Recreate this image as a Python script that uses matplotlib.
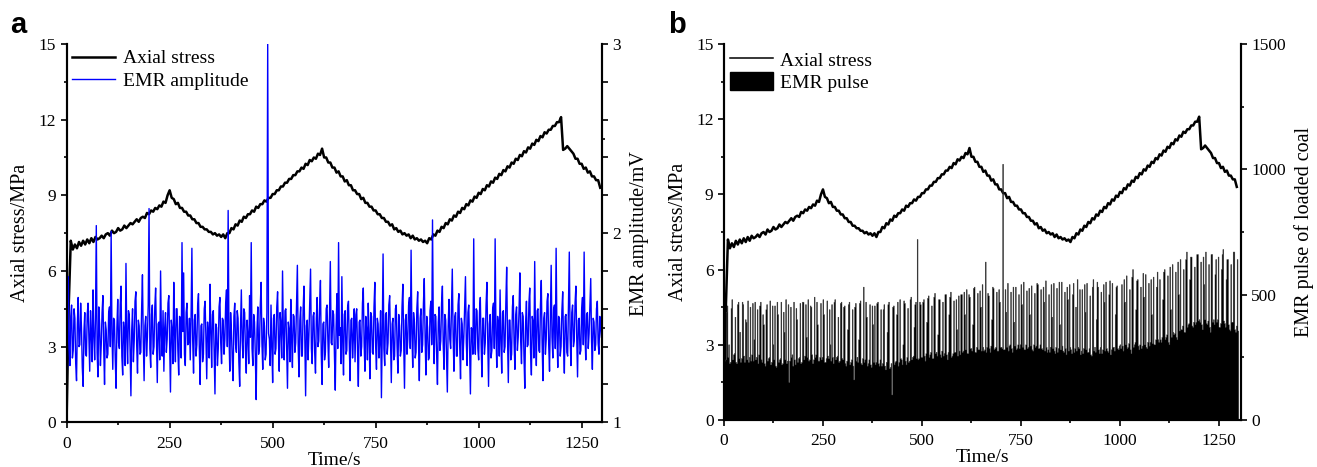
import numpy as np
import matplotlib.pyplot as plt
from matplotlib.ticker import MultipleLocator, FixedLocator, FuncFormatter
from matplotlib.lines import Line2D
from matplotlib.patches import Patch

plt.rcParams['font.family'] = ['Liberation Serif', 'DejaVu Serif']

# sampling interval (s) of the read-off series
STRESS_DT = 5
EMR_DT = 2

# axial stress, MPa (t = 0, 5, 10, ... s)
stress = [
    0.2, 4.6, 7.2, 6.85, 7.05, 6.9, 7.15, 7.0, 7.2, 7.05, 7.25, 7.1, 7.3, 7.15, 7.35, 7.25, 7.3, 7.4, 7.3, 7.45,
    7.5, 7.4, 7.6, 7.5, 7.55, 7.7, 7.6, 7.65, 7.8, 7.7, 7.8, 7.9, 7.85, 7.95, 8.05, 7.95, 8.1, 8.15, 8.1, 8.3,
    8.25, 8.4, 8.35, 8.5, 8.45, 8.6, 8.55, 8.75, 8.7, 9.0, 9.2, 8.9, 8.85, 8.65, 8.7, 8.5, 8.5, 8.35, 8.35, 8.2,
    8.2, 8.05, 8.05, 7.9, 7.9, 7.75, 7.75, 7.65, 7.65, 7.55, 7.55, 7.45, 7.5, 7.4, 7.45, 7.35, 7.45, 7.3, 7.5, 7.5,
    7.7, 7.65, 7.85, 7.8, 8.0, 7.95, 8.15, 8.1, 8.25, 8.25, 8.4, 8.35, 8.55, 8.5, 8.65, 8.65, 8.8, 8.75, 8.9, 8.9,
    9.05, 9.05, 9.2, 9.2, 9.35, 9.35, 9.5, 9.5, 9.65, 9.65, 9.8, 9.8, 9.95, 9.95, 10.1, 10.05, 10.25, 10.2, 10.4, 10.35,
    10.5, 10.45, 10.65, 10.6, 10.85, 10.5, 10.5, 10.3, 10.3, 10.1, 10.1, 9.9, 9.95, 9.75, 9.75, 9.55, 9.6, 9.4, 9.4, 9.2,
    9.2, 9.05, 9.05, 8.85, 8.9, 8.7, 8.7, 8.55, 8.55, 8.4, 8.4, 8.25, 8.25, 8.1, 8.1, 7.95, 7.95, 7.8, 7.85, 7.65,
    7.7, 7.55, 7.6, 7.45, 7.5, 7.4, 7.45, 7.3, 7.4, 7.25, 7.3, 7.2, 7.25, 7.15, 7.2, 7.1, 7.3, 7.25, 7.45, 7.4,
    7.6, 7.55, 7.75, 7.7, 7.9, 7.85, 8.05, 8.0, 8.2, 8.15, 8.35, 8.3, 8.5, 8.45, 8.65, 8.6, 8.8, 8.75, 8.95, 8.9,
    9.1, 9.05, 9.25, 9.2, 9.4, 9.35, 9.55, 9.5, 9.7, 9.65, 9.85, 9.8, 10.0, 9.95, 10.15, 10.1, 10.3, 10.25, 10.45, 10.4,
    10.6, 10.55, 10.75, 10.7, 10.9, 10.85, 11.05, 11.0, 11.2, 11.15, 11.35, 11.3, 11.5, 11.45, 11.6, 11.6, 11.75, 11.75, 11.9, 11.9,
    12.1, 10.8, 10.85, 10.95, 10.85, 10.75, 10.65, 10.45, 10.45, 10.25, 10.25, 10.05, 10.1, 9.9, 9.95, 9.75, 9.75, 9.6, 9.6, 9.3,
]

# EMR amplitude, mV (t = 0, 2, 4, ... s)
emr_amplitude = [
    1.45, 1.28, 1.77, 1.42, 1.30, 1.56, 1.62, 1.34, 1.38, 1.60, 1.55, 1.31, 1.22, 1.52, 1.66, 1.40, 1.41, 1.63, 1.50, 1.29, 1.19, 1.48, 1.58, 1.36, 1.35,
    1.57, 1.63, 1.44, 1.27, 1.59, 1.47, 1.32, 1.70, 1.46, 1.33, 1.55, 2.04, 1.37, 1.24, 1.61, 1.52, 1.30, 1.41, 1.58, 1.67, 1.39, 1.20, 1.53, 1.49, 1.34,
    1.36, 1.58, 1.61, 1.40, 2.01, 1.47, 1.28, 1.55, 1.54, 1.33, 1.18, 1.50, 1.65, 1.42, 1.39, 1.62, 1.72, 1.35, 1.25, 1.53, 1.48, 1.30, 1.84, 1.45, 1.31,
    1.59, 1.57, 1.38, 1.14, 1.49, 1.60, 1.32, 1.43, 1.64, 1.69, 1.41, 1.26, 1.54, 1.51, 1.36, 1.37, 1.60, 1.78, 1.43, 1.22, 1.51, 1.56, 1.35, 1.45, 1.62,
    2.13, 1.39, 1.29, 1.57, 1.62, 1.36, 1.40, 1.61, 1.71, 1.44, 1.21, 1.52, 1.53, 1.33, 1.80, 1.46, 1.35, 1.59, 1.27, 1.50, 1.58, 1.37, 1.44, 1.63, 1.67,
    1.40, 1.16, 1.54, 1.49, 1.31, 1.74, 1.47, 1.32, 1.60, 1.60, 1.38, 1.25, 1.56, 1.55, 1.34, 1.95, 1.48, 1.79, 1.36, 1.30, 1.58, 1.63, 1.41, 1.42, 1.55,
    1.33, 1.56, 1.92, 1.43, 1.26, 1.54, 1.57, 1.35, 1.41, 1.62, 1.68, 1.39, 1.20, 1.51, 1.52, 1.32, 1.36, 1.60, 1.64, 1.45, 1.23, 1.53, 1.47, 1.34, 1.73,
    1.48, 1.29, 1.57, 1.59, 1.37, 1.15, 1.52, 1.50, 1.30, 1.39, 1.61, 1.66, 1.42, 1.31, 1.55, 1.54, 1.36, 1.44, 1.63, 1.70, 1.40, 2.12, 1.46, 1.27, 1.58,
    1.48, 1.33, 1.22, 1.56, 1.63, 1.41, 1.37, 1.59, 1.55, 1.32, 1.19, 1.50, 1.70, 1.43, 1.34, 1.60, 1.58, 1.38, 1.26, 1.54, 1.46, 1.31, 1.67, 1.45, 1.95,
    1.39, 1.30, 1.57, 1.53, 1.35, 1.12, 1.49, 1.61, 1.36, 1.40, 1.62, 1.74, 1.42, 1.28, 1.55, 1.51, 1.33, 1.36, 1.58, 3.00, 1.47, 1.44, 1.30, 1.62, 1.40,
    1.21, 1.55, 1.57, 1.36, 1.39, 1.61, 1.69, 1.43, 1.27, 1.58, 1.52, 1.34, 1.80, 1.47, 1.33, 1.59, 1.60, 1.38, 1.18, 1.53, 1.49, 1.32, 1.65, 1.44, 1.29,
    1.57, 1.56, 1.37, 1.42, 1.62, 1.83, 1.40, 1.24, 1.54, 1.61, 1.35, 1.35, 1.60, 1.72, 1.45, 1.14, 1.51, 1.54, 1.33, 1.46, 1.63, 1.81, 1.39, 1.31, 1.56,
    1.58, 1.37, 1.26, 1.55, 1.66, 1.40, 1.43, 1.62, 1.75, 1.36, 1.20, 1.52, 1.53, 1.33, 1.37, 1.60, 1.62, 1.44, 1.29, 1.56, 1.85, 1.42, 1.41, 1.59, 1.57,
    1.35, 1.17, 1.50, 1.68, 1.39, 1.95, 1.46, 1.50, 1.31, 1.77, 1.43, 1.25, 1.57, 1.59, 1.36, 1.38, 1.61, 1.64, 1.41, 1.22, 1.54, 1.55, 1.34, 1.45, 1.60,
    1.32, 1.57, 1.60, 1.38, 1.19, 1.53, 1.54, 1.35, 1.40, 1.63, 1.71, 1.42, 1.27, 1.56, 1.49, 1.33, 1.63, 1.46, 1.23, 1.58, 1.56, 1.37, 1.36, 1.61, 1.74,
    1.40, 1.28, 1.55, 1.52, 1.34, 1.44, 1.59, 1.13, 1.47, 1.89, 1.39, 1.30, 1.57, 1.58, 1.36, 1.42, 1.62, 1.67, 1.43, 1.21, 1.52, 1.55, 1.33, 1.35, 1.60,
    1.62, 1.40, 1.26, 1.57, 1.51, 1.35, 1.38, 1.61, 1.73, 1.43, 1.18, 1.54, 1.57, 1.36, 1.44, 1.62, 1.66, 1.39, 1.91, 1.47, 1.29, 1.58, 1.53, 1.34, 1.37,
    1.60, 1.69, 1.42, 1.22, 1.55, 1.60, 1.37, 1.41, 1.63, 1.76, 1.45, 1.25, 1.56, 1.50, 1.33, 1.34, 1.59, 1.64, 1.41, 2.07, 1.48, 1.31, 1.57, 1.56, 1.36,
    1.20, 1.53, 1.61, 1.38, 1.43, 1.63, 1.72, 1.41, 1.28, 1.57, 1.54, 1.34, 1.16, 1.51, 1.65, 1.44, 1.39, 1.60, 1.81, 1.46, 1.27, 1.56, 1.58, 1.35, 1.35,
    1.62, 1.68, 1.40, 1.23, 1.55, 1.52, 1.33, 1.45, 1.61, 1.77, 1.42, 1.30, 1.58, 1.62, 1.37, 1.15, 1.50, 1.49, 1.36, 1.97, 1.45, 1.36, 1.60, 1.59, 1.39,
    1.33, 1.58, 1.66, 1.41, 1.24, 1.55, 1.55, 1.36, 1.42, 1.62, 1.74, 1.44, 1.19, 1.52, 1.57, 1.34, 1.38, 1.60, 1.63, 1.39, 1.97, 1.47, 1.29, 1.56, 1.52,
    1.35, 1.70, 1.43, 1.26, 1.58, 1.59, 1.37, 1.40, 1.63, 1.82, 1.45, 1.21, 1.54, 1.54, 1.33, 1.36, 1.61, 1.67, 1.42, 1.28, 1.57, 1.61, 1.38, 1.45, 1.59,
    1.79, 1.43, 1.31, 1.58, 1.56, 1.35, 1.18, 1.53, 1.64, 1.40, 1.41, 1.63, 1.71, 1.37, 1.25, 1.56, 1.53, 1.34, 1.85, 1.46, 1.30, 1.59, 1.60, 1.38, 1.37,
    1.62, 1.75, 1.42, 1.22, 1.55, 1.58, 1.36, 1.44, 1.64, 1.68, 1.41, 1.27, 1.57, 1.83, 1.45, 1.34, 1.60, 1.62, 1.39, 1.92, 1.47, 1.29, 1.56, 1.55, 1.35,
    1.40, 1.59, 1.69, 1.42, 1.26, 1.56, 1.57, 1.37, 1.35, 1.61, 1.90, 1.44, 1.30, 1.58, 1.62, 1.40, 1.43, 1.63, 1.72, 1.45, 1.24, 1.54, 1.55, 1.36, 1.38,
    1.60, 1.66, 1.41, 1.90, 1.47, 1.33, 1.57, 1.58, 1.39, 1.47, 1.62, 1.76, 1.43, 1.28, 1.55, 1.53, 1.38, 1.41, 1.60, 1.64, 1.42, 1.36, 1.56, 1.50, 1.45,
]

# EMR pulse count of loaded coal (t = 0, 2, 4, ... s)
emr_pulse = [
    470, 235, 240, 430, 455, 250, 300, 225, 230, 445, 480, 240, 260, 265, 410, 230, 225, 460, 470, 245, 350, 230, 245, 470, 460,
    255, 230, 400, 390, 240, 475, 230, 250, 450, 235, 260, 465, 235, 320, 470, 240, 250, 440, 225, 260, 455, 470, 240, 230, 420,
    380, 225, 215, 440, 460, 235, 245, 250, 475, 220, 230, 455, 300, 240, 455, 215, 210, 470, 420, 230, 240, 245, 470, 220, 225,
    430, 350, 240, 480, 225, 235, 460, 150, 235, 450, 250, 260, 215, 470, 240, 220, 445, 400, 230, 245, 250, 465, 225, 230, 470,
    470, 240, 255, 460, 330, 250, 480, 235, 240, 455, 450, 260, 225, 240, 490, 250, 260, 470, 380, 235, 235, 250, 465, 240, 250,
    480, 420, 230, 230, 245, 475, 255, 245, 440, 300, 235, 460, 250, 225, 470, 480, 240, 250, 255, 410, 230, 235, 465, 470, 245,
    240, 450, 455, 225, 215, 235, 360, 460, 470, 220, 230, 240, 440, 215, 160, 450, 465, 235, 250, 230, 320, 465, 475, 225, 220,
    245, 530, 230, 240, 470, 410, 215, 225, 240, 460, 220, 210, 455, 380, 230, 455, 220, 230, 465, 470, 225, 215, 240, 440, 215,
    225, 440, 460, 215, 200, 230, 350, 460, 470, 205, 210, 225, 100, 450, 455, 220, 230, 235, 420, 470, 215, 230, 480, 245, 240,
    220, 300, 475, 465, 235, 220, 250, 445, 230, 235, 480, 490, 240, 250, 255, 370, 460, 470, 245, 720, 240, 245, 470, 460, 250,
    250, 470, 480, 255, 235, 265, 390, 485, 495, 250, 260, 270, 455, 245, 245, 490, 505, 265, 270, 255, 340, 480, 480, 260, 250,
    275, 470, 255, 265, 500, 500, 260, 240, 270, 420, 490, 510, 250, 255, 265, 475, 270, 270, 480, 360, 255, 495, 275, 260, 500,
    500, 270, 275, 510, 420, 280, 520, 265, 265, 500, 490, 285, 285, 275, 380, 525, 530, 270, 270, 290, 505, 280, 280, 515, 450,
    275, 540, 290, 275, 280, 630, 270, 290, 505, 495, 285, 270, 295, 400, 530, 525, 280, 285, 290, 510, 275, 275, 520, 470, 290,
    290, 285, 1020, 280, 280, 520, 430, 290, 545, 275, 295, 300, 510, 285, 270, 530, 390, 295, 530, 280, 285, 300, 500, 285, 300,
    540, 460, 290, 550, 280, 280, 300, 515, 285, 290, 525, 420, 295, 535, 280, 275, 300, 505, 290, 295, 545, 540, 285, 285, 300,
    520, 285, 280, 530, 470, 275, 555, 290, 270, 280, 500, 270, 290, 540, 410, 285, 545, 275, 265, 290, 525, 270, 285, 550, 380,
    280, 550, 295, 275, 270, 510, 285, 260, 530, 480, 275, 540, 290, 280, 265, 500, 545, 270, 285, 450, 275, 560, 290, 285, 520,
    260, 275, 520, 265, 285, 540, 430, 280, 545, 270, 270, 285, 495, 260, 255, 530, 560, 275, 290, 270, 400, 550, 530, 280, 265,
    290, 510, 265, 280, 540, 470, 275, 550, 285, 275, 270, 500, 555, 260, 280, 545, 290, 290, 275, 420, 530, 535, 285, 280, 295,
    300, 285, 540, 295, 275, 560, 470, 300, 575, 285, 290, 305, 520, 280, 265, 570, 600, 290, 300, 310, 440, 555, 560, 295, 280,
    300, 530, 285, 295, 585, 490, 300, 580, 290, 285, 310, 545, 295, 310, 560, 420, 305, 570, 300, 300, 320, 530, 590, 320, 310,
    560, 320, 310, 330, 480, 590, 600, 320, 330, 340, 575, 310, 300, 610, 440, 330, 620, 350, 340, 345, 590, 330, 320, 630, 500,
    355, 640, 360, 360, 375, 600, 350, 350, 640, 670, 370, 380, 385, 560, 650, 650, 375, 370, 390, 610, 380, 390, 660, 660, 395,
    400, 390, 630, 380, 360, 650, 540, 400, 670, 385, 380, 395, 620, 370, 350, 660, 660, 390, 400, 380, 580, 640, 390, 400, 650,
    370, 370, 385, 600, 660, 680, 395, 385, 370, 560, 640, 640, 380, 360, 355, 620, 390, 390, 670, 670, 360, 350, 375, 640, 355,
]

t_stress = np.arange(len(stress)) * STRESS_DT
t_amp = np.arange(len(emr_amplitude)) * EMR_DT
pulse_edges = np.arange(len(emr_pulse) + 1) * EMR_DT

TICK_FS = 12.5
LABEL_FS = 14.5
LEGEND_FS = 14


def style_axes(ax, right_ax, xmax):
    for a in (ax, right_ax):
        a.spines['top'].set_visible(False)
        for s in ('left', 'right', 'bottom'):
            a.spines[s].set_linewidth(1.5)
        a.tick_params(which='major', direction='out', length=4.5, width=1.2,
                      labelsize=TICK_FS, pad=3)
        a.tick_params(which='minor', direction='out', length=2.5, width=1.2)
    ax.set_xlim(0, xmax)
    ax.set_ylim(0, 15)
    ax.xaxis.set_major_locator(MultipleLocator(250))
    ax.xaxis.set_minor_locator(MultipleLocator(125))
    ax.yaxis.set_major_locator(MultipleLocator(3))
    ax.yaxis.set_minor_locator(MultipleLocator(1.5))
    ax.tick_params(axis='x', which='major', pad=5)
    ax.set_xlabel('Time/s', fontsize=LEGEND_FS, labelpad=0)
    ax.set_ylabel('Axial stress/MPa', fontsize=LABEL_FS, labelpad=6)


fig = plt.figure(figsize=(13.17, 4.67), dpi=100)

# ---- panel a ----
ax1 = fig.add_axes([0.0506, 0.0957, 0.4067, 0.8101])
ax2 = ax1.twinx()
l1, = ax1.plot(t_stress, stress, color='black', lw=1.8)
l2, = ax2.plot(t_amp, emr_amplitude, color='#0000ff', lw=1.0)
style_axes(ax1, ax2, 1300)
ax2.set_ylim(1, 3)
ax2.yaxis.set_major_locator(MultipleLocator(0.2))
ax2.yaxis.set_minor_locator(FixedLocator([1.5, 2.5]))
ax2.yaxis.set_major_formatter(FuncFormatter(
    lambda v, p: f'{v:.0f}' if abs(v - round(v)) < 1e-6 else ''))
ax2.set_ylabel('EMR amplitude/mV', fontsize=LABEL_FS, labelpad=6)
ax2.legend([l1, l2], ['Axial stress', 'EMR amplitude'], loc='upper left',
           frameon=False, fontsize=LEGEND_FS, handlelength=2.2,
           handletextpad=0.4, labelspacing=0.25, borderaxespad=0.1,
           borderpad=0.2)

# ---- panel b ----
bx1 = fig.add_axes([0.5497, 0.1006, 0.3924, 0.8052])
bx2 = bx1.twinx()
bx1.plot(t_stress, stress, color='black', lw=1.8)
# pulse columns drawn as one filled step outline, so no seams between bars
bx2.stairs(emr_pulse, pulse_edges, fill=True, facecolor='black',
           edgecolor='#3a3a3a', linewidth=0.35)
style_axes(bx1, bx2, 1305)
bx2.set_ylim(0, 1500)
bx2.yaxis.set_major_locator(MultipleLocator(500))
bx2.yaxis.set_minor_locator(MultipleLocator(250))
bx2.set_ylabel('EMR pulse of loaded coal', fontsize=LABEL_FS, labelpad=6)
bx2.legend([Line2D([], [], color='black', lw=1.1), Patch(color='black')],
           ['Axial stress', 'EMR pulse'], loc='upper left', frameon=False,
           fontsize=LEGEND_FS, handlelength=2.2, handleheight=1.1,
           handletextpad=0.4, labelspacing=0.1, borderaxespad=0.1,
           borderpad=0.2)

fig.text(0.0076, 0.929, 'a', fontsize=21, fontweight='bold',
         family=['Liberation Sans', 'DejaVu Sans'], va='baseline')
fig.text(0.5072, 0.929, 'b', fontsize=21, fontweight='bold',
         family=['Liberation Sans', 'DejaVu Sans'], va='baseline')

fig.savefig('out.png', dpi=100)
